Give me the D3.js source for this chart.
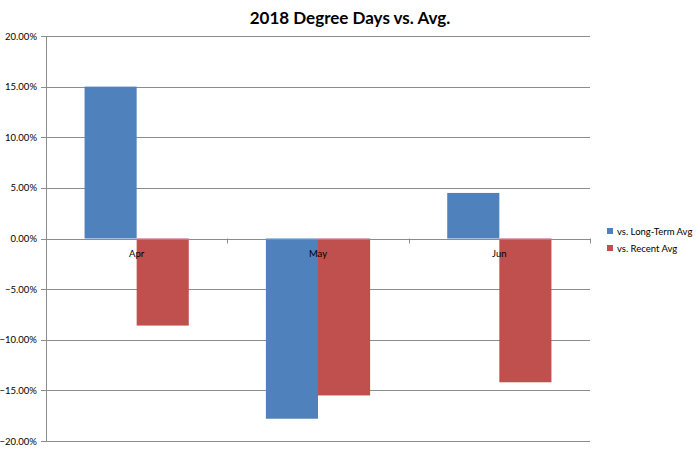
<!DOCTYPE html>
<html><head><meta charset="utf-8">
<script src="https://cdn.jsdelivr.net/npm/d3@7"></script>
<style>body{margin:0;background:#fff}svg{display:block;font-family:Lato,"Open Sans",sans-serif}</style>
</head><body>
<svg id="c" width="700" height="450"></svg>
<script>
const categories = ["Apr", "May", "Jun"];
const seriesNames = ["vs. Long-Term Avg", "vs. Recent Avg"];
const longTerm = [0.150, -0.178, 0.045];
const recent = [-0.086, -0.155, -0.142];
const yTicks = [-0.20, -0.15, -0.10, -0.05, 0, 0.05, 0.10, 0.15, 0.20];
const colors = ["#4F81BD", "#C0504D"];

const svg = d3.select("#c");
const L = 46, R = 590, T = 36, B = 441;
const y = d3.scaleLinear().domain([-0.2, 0.2]).range([B, T]);
const x = d3.scaleBand().domain(categories).range([L, R]);
const x1 = d3.scaleBand().domain(seriesNames).range([0, x.bandwidth()]).paddingOuter(0.74).paddingInner(0);
const fmt = d3.format(".2%");

svg.append("text").attr("x", 350).attr("y", 24).attr("text-anchor", "middle")
  .attr("font-size", 17).attr("font-weight", "bold").attr("fill", "#000").text("2018 Degree Days vs. Avg.");

// grid
svg.append("g").selectAll("line").data(yTicks).join("line")
  .attr("x1", L - 5).attr("x2", R).attr("y1", d => Math.round(y(d)) + 0.5).attr("y2", d => Math.round(y(d)) + 0.5)
  .attr("stroke", "#8c8c8c").attr("stroke-width", 1);
svg.append("g").selectAll("text").data(yTicks).join("text")
  .attr("x", 37).attr("y", d => y(d) + 3.5).attr("text-anchor", "end").attr("font-size", 9.5).attr("fill", "#000")
  .text(d => fmt(d));
svg.append("line").attr("x1", L + 0.5).attr("x2", L + 0.5).attr("y1", T).attr("y2", B).attr("stroke", "#8c8c8c");

const data = categories.map((c, i) => ({c, vals: [longTerm[i], recent[i]]}));
const g = svg.append("g").selectAll("g").data(data).join("g").attr("transform", d => `translate(${x(d.c)},0)`);
g.selectAll("rect").data(d => d.vals.map((v, j) => ({v, s: seriesNames[j], j}))).join("rect")
  .attr("x", d => x1(d.s)).attr("width", x1.bandwidth())
  .attr("y", d => y(Math.max(0, d.v))).attr("height", d => Math.abs(y(d.v) - y(0)))
  .attr("fill", d => colors[d.j]);

// zero axis line and category ticks
svg.append("line").attr("x1", L).attr("x2", R).attr("y1", Math.round(y(0)) + 0.5).attr("y2", Math.round(y(0)) + 0.5).attr("stroke", "#8c8c8c");
svg.append("g").selectAll("line").data(categories.slice(1).concat(["end"])).join("line")
  .attr("x1", (d, i) => Math.round(L + x.bandwidth() * (i + 1)) + 0.5).attr("x2", (d, i) => Math.round(L + x.bandwidth() * (i + 1)) + 0.5)
  .attr("y1", y(0)).attr("y2", y(0) + 5).attr("stroke", "#8c8c8c");
svg.append("g").selectAll("text").data(categories).join("text")
  .attr("x", d => x(d) + x.bandwidth() / 2).attr("y", y(0) + 18).attr("text-anchor", "middle")
  .attr("font-size", 9.5).attr("fill", "#000").text(d => d);

// legend
const lg = svg.append("g").selectAll("g").data(seriesNames).join("g")
  .attr("transform", (d, i) => `translate(607,${228 + i * 17})`);
lg.append("rect").attr("width", 6).attr("height", 6).attr("fill", (d, i) => colors[i]);
lg.append("text").attr("x", 10).attr("y", 6.5).attr("font-size", 9.5).attr("fill", "#000").text(d => d);
</script>
</body></html>
